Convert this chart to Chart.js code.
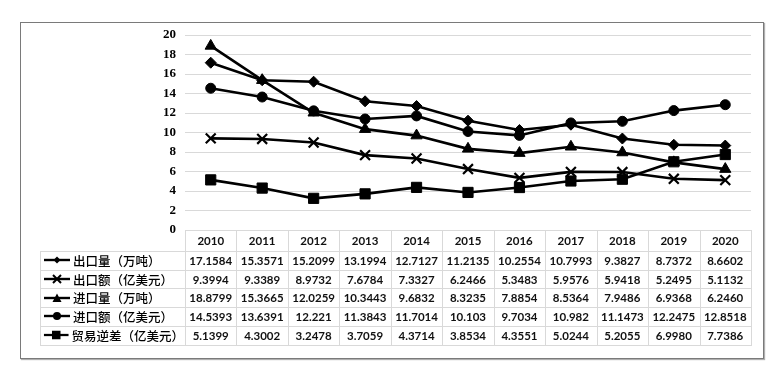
<!DOCTYPE html>
<html><head><meta charset="utf-8">
<script src="https://cdn.jsdelivr.net/npm/chart.js@4/dist/chart.umd.min.js"></script>
<style>
html,body{margin:0;padding:0;background:#fff;}
#wrap{position:relative;width:777px;height:365px;overflow:hidden;}
#frame{position:absolute;left:20px;top:22px;width:744px;height:337px;border:1.5px solid #7a7a7a;box-sizing:border-box;box-shadow:1px 1px 1px #b0b0b0;}
#c{position:absolute;left:0;top:0;}
.hl{position:absolute;height:1px;background:#d9d9d9;}
.vl{position:absolute;width:1px;background:#d9d9d9;}
.cell{position:absolute;display:flex;align-items:center;justify-content:center;font-family:Lato,"Liberation Sans",sans-serif;font-weight:700;font-size:11.5px;color:#111;white-space:nowrap;}
.lab{position:absolute;display:flex;align-items:center;font-family:"Noto Sans CJK SC","Noto Sans",sans-serif;font-size:12.5px;font-weight:500;color:#000;white-space:nowrap;}
.lab svg{margin-right:2px;}
</style></head>
<body><div id="wrap"><div id="frame"></div><canvas id="c" width="777" height="365"></canvas><div id="tb"></div></div>
<script>
const years = ['2010','2011','2012','2013','2014','2015','2016','2017','2018','2019','2020'];
const seriesNames = ['出口量（万吨）','出口额（亿美元）','进口量（万吨）','进口额（亿美元）','贸易逆差（亿美元）'];
const exportVolume = [17.1584,15.3571,15.2099,13.1994,12.7127,11.2135,10.2554,10.7993,9.3827,8.7372,8.6602];
const exportValue  = [9.3994,9.3389,8.9732,7.6784,7.3327,6.2466,5.3483,5.9576,5.9418,5.2495,5.1132];
const importVolume = [18.8799,15.3665,12.0259,10.3443,9.6832,8.3235,7.8854,8.5364,7.9486,6.9368,6.2460];
const importValue  = [14.5393,13.6391,12.221,11.3843,11.7014,10.103,9.7034,10.982,11.1473,12.2475,12.8518];
const tradeDeficit = [5.1399,4.3002,3.2478,3.7059,4.3714,3.8534,4.3551,5.0244,5.2055,6.9980,7.7386];
// labels shown in table exactly as in source
const tableText = [
 ['17.1584','15.3571','15.2099','13.1994','12.7127','11.2135','10.2554','10.7993','9.3827','8.7372','8.6602'],
 ['9.3994','9.3389','8.9732','7.6784','7.3327','6.2466','5.3483','5.9576','5.9418','5.2495','5.1132'],
 ['18.8799','15.3665','12.0259','10.3443','9.6832','8.3235','7.8854','8.5364','7.9486','6.9368','6.2460'],
 ['14.5393','13.6391','12.221','11.3843','11.7014','10.103','9.7034','10.982','11.1473','12.2475','12.8518'],
 ['5.1399','4.3002','3.2478','3.7059','4.3714','3.8534','4.3551','5.0244','5.2055','6.9980','7.7386']
];
const allData = [exportVolume, exportValue, importVolume, importValue, tradeDeficit];
const styles = [
 {pointStyle:'rectRot', pointRadius:5.5, pointBorderWidth:1},
 {pointStyle:'crossRot', pointRadius:7, pointBorderWidth:2.2},
 {pointStyle:'triangle', pointRadius:6.5, pointBorderWidth:1},
 {pointStyle:'circle', pointRadius:5, pointBorderWidth:1},
 {pointStyle:'rect', pointRadius:7.2, pointBorderWidth:1}
];
const datasets = allData.map((d,i)=>Object.assign({
  label: seriesNames[i], data: d, borderColor:'#000', backgroundColor:'#000',
  pointBackgroundColor:'#000', pointBorderColor:'#000', borderWidth:2.6, tension:0, fill:false
}, styles[i]));

const chart = new Chart(document.getElementById('c'), {
  type:'line',
  data:{labels:years, datasets},
  options:{
    responsive:false, animation:false, devicePixelRatio:1,
    layout:{padding:{left:155,right:26,top:35,bottom:127}},
    plugins:{legend:{display:false}, tooltip:{enabled:false}},
    scales:{
      x:{offset:true, grid:{display:false}, border:{display:false}, ticks:{display:false}},
      y:{min:0, max:20, ticks:{stepSize:2, autoSkip:false, color:'#000', padding:9, font:{family:'Liberation Serif', size:13, weight:'bold'}},
         grid:{color:'#d9d9d9', drawTicks:false}, border:{display:false},
         afterFit(s){ s.width = 30; }}
    }
  }
});

// Data table aligned to the chart's x scale
(function(){
  const tb = document.getElementById('tb');
  const ca = chart.chartArea;
  const xs = chart.scales.x;
  const colW = (ca.right - ca.left) / years.length;
  const top = ca.bottom, headH = 21, rowH = 18.7;
  const legLeft = 40;
  const bottom = top + headH + rowH * 5;
  function add(cls, css, html){ const d=document.createElement('div'); d.className=cls; Object.assign(d.style, css); if(html!==undefined) d.innerHTML=html; tb.appendChild(d); return d; }
  add('hl',{left:ca.left+'px', top:top+'px', width:(ca.right-ca.left)+'px'});
  for(let r=0;r<=5;r++){
    const y = top + headH + r*rowH;
    add('hl',{left:legLeft+'px', top:y+'px', width:(ca.right-legLeft+1)+'px'});
  }
  add('vl',{left:legLeft+'px', top:(top+headH)+'px', height:(rowH*5)+'px'});
  for(let c=0;c<=years.length;c++){
    const x = ca.left + c*colW;
    add('vl',{left:x+'px', top:top+'px', height:(bottom-top)+'px'});
  }
  years.forEach((yr,i)=>{
    const cx = xs.getPixelForValue(i);
    add('cell',{left:(cx-colW/2)+'px', top:top+'px', width:colW+'px', height:headH+'px'}, yr);
  });
  const keyMark = [
    '<polygon points="14,2.5 17.5,6 14,9.5 10.5,6" fill="#000"/>',
    '<path d="M10,2 L18,10 M18,2 L10,10" stroke="#000" stroke-width="2"/>',
    '<polygon points="14,1.5 18.5,10 9.5,10" fill="#000"/>',
    '<circle cx="14" cy="6" r="4" fill="#000"/>',
    '<rect x="9.5" y="1.5" width="9" height="9" fill="#000"/>'
  ];
  for(let r=0;r<5;r++){
    const y = top + headH + r*rowH;
    add('lab',{left:(legLeft+3)+'px', top:y+'px', height:rowH+'px', width:(ca.left-legLeft-4)+'px'},
      '<svg width="28" height="12" viewBox="0 0 28 12"><line x1="1" y1="6" x2="27" y2="6" stroke="#000" stroke-width="2.4"/>'+keyMark[r]+'</svg>'+seriesNames[r]);
    tableText[r].forEach((t,i)=>{
      const cx = xs.getPixelForValue(i);
      add('cell',{left:(cx-colW/2)+'px', top:y+'px', width:colW+'px', height:rowH+'px'}, t);
    });
  }
})();
</script>
</body></html>
